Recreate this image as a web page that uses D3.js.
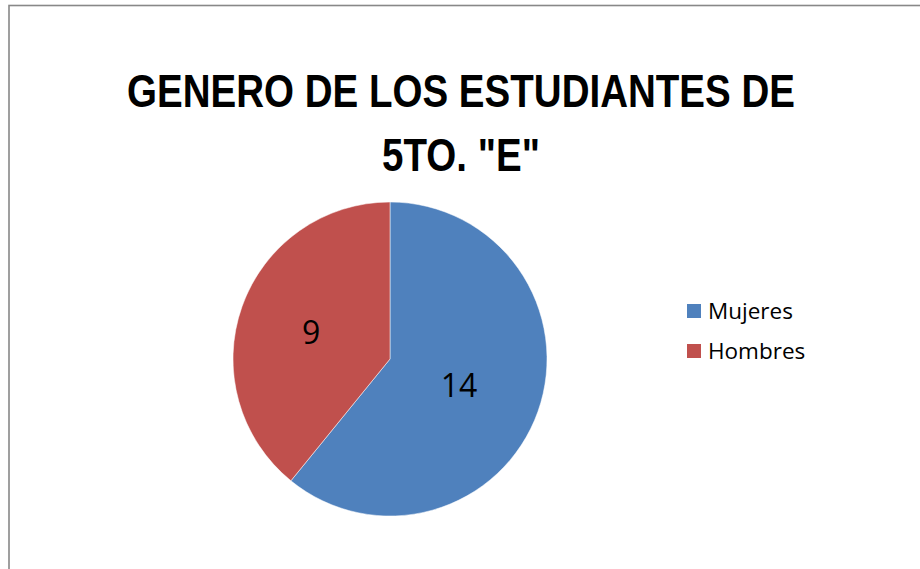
<!DOCTYPE html>
<meta charset="utf-8">
<style>
  body { margin: 0; background: #fff; }
  svg { display: block; }
</style>
<svg width="920" height="569"></svg>
<script src="https://cdn.jsdelivr.net/npm/d3@7"></script>
<script>
// data
var categories = ["Mujeres", "Hombres"];
var values = [14, 9];
var colors = ["#4F81BD", "#C0504D"];
var titleLines = ["GENERO DE LOS ESTUDIANTES DE", "5TO. \"E\""];

var svg = d3.select("svg");
var W = 920, H = 569;

// chart frame (only top and left edges are visible in the window)
svg.append("rect")
    .attr("x", 9).attr("y", 5.5)
    .attr("width", W + 20).attr("height", H + 20)
    .attr("fill", "#fff")
    .attr("stroke", "#888")
    .attr("stroke-width", 1.6);

// title - squeezed horizontally to get close to the narrow Calibri look
var title = svg.append("text")
    .attr("transform", "translate(461,0) scale(0.82,1)")
    .attr("text-anchor", "middle")
    .style("font-family", "'Liberation Sans', Arial, sans-serif")
    .style("font-weight", "bold")
    .style("font-size", "47px")
    .attr("fill", "#000");
title.selectAll("tspan")
  .data(titleLines)
  .enter().append("tspan")
    .attr("x", 0)
    .attr("y", function(d, i) { return 107 + i * 64; })
    .text(function(d) { return d; });

// pie
var cx = 390, cy = 359, r = 157;
var pie = d3.pie().sort(null).value(function(d) { return d.value; });
var data = categories.map(function(c, i) { return {name: c, value: values[i], color: colors[i]}; });
var arc = d3.arc().innerRadius(0).outerRadius(r);
var labelArc = d3.arc().innerRadius(r * 0.5).outerRadius(r * 0.5);

var g = svg.append("g").attr("transform", "translate(" + cx + "," + cy + ")");
var arcs = g.selectAll("g.slice")
  .data(pie(data))
  .enter().append("g").attr("class", "slice");

arcs.append("path")
    .attr("d", arc)
    .attr("fill", function(d) { return d.data.color; })
    .attr("stroke", "#fff")
    .attr("stroke-width", 0.5);

arcs.append("text")
    .attr("transform", function(d) { return "translate(" + labelArc.centroid(d) + ")"; })
    .attr("text-anchor", "middle")
    .attr("dx", -5)
    .attr("dy", "0.36em")
    .style("font-family", "'Open Sans', sans-serif")
    .style("font-size", "32px")
    .attr("fill", "#000")
    .text(function(d) { return d.data.value; });

// legend
var legend = svg.append("g").attr("transform", "translate(687,304)");
var item = legend.selectAll("g")
  .data(data)
  .enter().append("g")
    .attr("transform", function(d, i) { return "translate(0," + i * 40 + ")"; });
item.append("rect")
    .attr("width", 14).attr("height", 14)
    .attr("fill", function(d) { return d.color; });
item.append("text")
    .attr("x", 21).attr("y", 7)
    .attr("dy", "0.36em")
    .style("font-family", "'Open Sans', sans-serif")
    .style("font-size", "22.5px")
    .attr("fill", "#000")
    .text(function(d) { return d.name; });
</script>
